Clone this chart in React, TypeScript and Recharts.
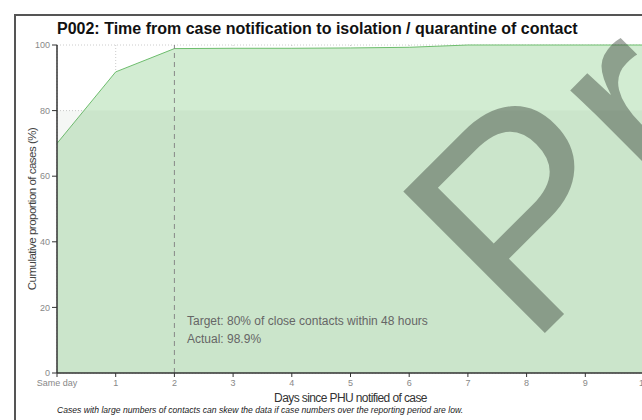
import { AreaChart, Area, XAxis, YAxis, CartesianGrid, ReferenceArea, ReferenceLine, Label } from 'recharts';

// days since the PHU was notified, and the cumulative % of cases isolated by then
const DAYS = [0, 1, 2, 3, 4, 5, 6, 7, 8, 9, 10];
const DAY_LABELS = ['Same day', '1', '2', '3', '4', '5', '6', '7', '8', '9', '10'];
const CUMULATIVE_PCT = [70, 91.8, 98.9, 99.0, 99.0, 99.1, 99.3, 100, 100, 100, 100];
const Y_TICKS = [0, 20, 40, 60, 80, 100];
const TARGET_PCT = 80;
const TARGET_DAY = 2;

const data = DAYS.map((d, i) => ({ day: d, pct: CUMULATIVE_PCT[i] }));

const FONT = 'Arial, "Liberation Sans", sans-serif';

export default function App() {
  return (
    <div
      style={{
        position: 'absolute',
        left: 0,
        top: 0,
        width: 642,
        height: 420,
        overflow: 'hidden',
        background: '#fff',
        fontFamily: FONT,
      }}
    >
      {/* outer frame */}
      <div
        style={{
          position: 'absolute',
          left: 14,
          top: 14,
          width: 700,
          height: 500,
          border: '2px solid #555',
        }}
      />

      <div
        style={{
          position: 'absolute',
          left: 57,
          top: 20,
          fontSize: 16,
          fontWeight: 'bold',
          color: '#111',
          whiteSpace: 'nowrap',
        }}
      >
        P002: Time from case notification to isolation / quarantine of contact
      </div>

      <div style={{ position: 'absolute', left: 0, top: 0 }}>
        <AreaChart width={700} height={420} data={data} margin={{ top: 45, right: 56, bottom: 0, left: 0 }}>
          <Area
            type="linear"
            dataKey="pct"
            stroke="#6dbd6d"
            strokeWidth={1}
            fill="#d2ecd2"
            fillOpacity={1}
            isAnimationActive={false}
          />
          <ReferenceArea y1={0} y2={TARGET_PCT} fill="#7f957f" fillOpacity={0.08} stroke="none" />
          <CartesianGrid stroke="#aaa" strokeOpacity={0.6} strokeDasharray="1 2" />
          <ReferenceLine x={TARGET_DAY} stroke="#888" strokeDasharray="5 4" />
          <XAxis
            type="number"
            dataKey="day"
            domain={[0, 10]}
            ticks={DAYS}
            interval={0}
            tickFormatter={(v: number) => DAY_LABELS[v]}
            tick={{ fontSize: 9, fill: '#888', fontFamily: FONT }}
            tickSize={4}
            tickMargin={3}
            axisLine={{ stroke: '#333', strokeWidth: 1.5 }}
            tickLine={{ stroke: '#333' }}
            height={47}
          >
            <Label
              value="Days since PHU notified of case"
              position="insideBottom"
              offset={18}
              style={{ fontSize: 12, fill: '#333', fontFamily: FONT, letterSpacing: -0.6 }}
            />
          </XAxis>
          <YAxis
            type="number"
            domain={[0, 100]}
            ticks={Y_TICKS}
            width={57}
            tick={{ fontSize: 9, fill: '#888', fontFamily: FONT }}
            tickSize={5}
            tickMargin={2}
            axisLine={{ stroke: '#333', strokeWidth: 1.5 }}
            tickLine={{ stroke: '#333' }}
          >
            <Label
              value="Cumulative proportion of cases (%)"
              angle={-90}
              position="insideLeft"
              offset={32}
              style={{ fontSize: 11.5, fill: '#444', fontFamily: FONT, textAnchor: 'middle', letterSpacing: -0.5 }}
            />
          </YAxis>
        </AreaChart>
      </div>

      <div style={{ position: 'absolute', left: 187, top: 312, fontSize: 12, color: '#666', lineHeight: '18px' }}>
        <div>Target: 80% of close contacts within 48 hours</div>
        <div>Actual: 98.9%</div>
      </div>

      <div
        style={{
          position: 'absolute',
          left: 57,
          top: 405,
          fontSize: 8.6,
          fontStyle: 'italic',
          color: '#222',
          whiteSpace: 'nowrap',
        }}
      >
        Cases with large numbers of contacts can skew the data if case numbers over the reporting period are low.
      </div>

      {/* watermark */}
      <svg width={642} height={420} style={{ position: 'absolute', left: 0, top: 0, pointerEvents: 'none' }}>
        <text
          x={528}
          y={350}
          transform="rotate(-45, 528, 350)"
          fontSize={291}
          fontFamily={FONT}
          fill="#3f4a3f"
          fillOpacity={0.47}
        >
          Preliminary
        </text>
      </svg>
    </div>
  );
}
